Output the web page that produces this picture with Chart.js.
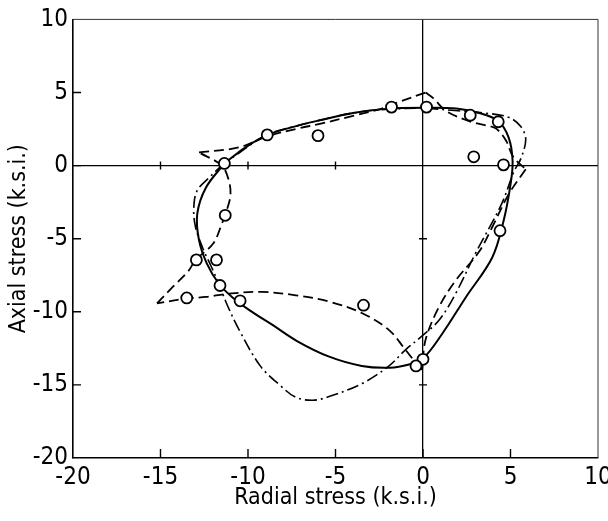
<!DOCTYPE html>
<html>
<head>
<meta charset="utf-8">
<script src="https://cdn.jsdelivr.net/npm/chart.js@4.4.1/dist/chart.umd.min.js"></script>
<style>
  html, body { margin: 0; padding: 0; background: #fff; }
</style>
</head>
<body>
<canvas id="chart" width="608" height="521"></canvas>
<script>
// axis ticks
const xTicks = [-20, -15, -10, -5, 0, 5, 10];
const yTicks = [-20, -15, -10, -5, 0, 5, 10];
const zeroLineTicksX = [-15, -10, -5];
const zeroLineTicksY = [-15, -5];

// measured points (radial, axial), k.s.i.
const measured = [
    [-11.35, 0.15], [-8.9, 2.1], [-6.0, 2.05], [-1.8, 4.0], [0.2, 4.0],
    [2.7, 3.45], [4.3, 3.0], [2.9, 0.6], [4.6, 0.05], [4.4, -4.45],
    [-11.3, -3.4], [-12.95, -6.45], [-11.8, -6.45], [-11.6, -8.2],
    [-10.45, -9.25], [-13.5, -9.05], [-3.4, -9.55], [0.0, -13.25], [-0.4, -13.7]
];

// solid curve
const solidCurve = [
    [-11.35, 0.15], [-10.2, 1.2], [-8.9, 2.1], [-7.1, 2.75], [-5.9, 3.1], [-4.0, 3.6],
    [-2.1, 3.88], [0.15, 3.95], [1.9, 3.9], [3.2, 3.6], [4.3, 3.05], [4.9, 1.9],
    [5.12, 0.3], [5.0, -1.3], [4.6, -3.8], [3.95, -6.3], [2.45, -9.0],
    [1.1, -11.5], [0.0, -13.2], [-0.8, -13.6], [-1.9, -13.82], [-3.5, -13.7],
    [-5.4, -13.05], [-7.2, -12.0], [-8.6, -10.9], [-9.9, -9.9], [-10.9, -9.0],
    [-11.65, -8.1], [-12.35, -6.7], [-12.8, -5.1], [-12.9, -3.3], [-12.4, -1.5],
    [-11.35, 0.15]
];

// dashed curve, split at its corners
const dashedTop = [
    [-12.8, 0.9], [-10.5, 1.25], [-8.9, 2.0], [-7.1, 2.55], [-5.9, 2.85],
    [-4.0, 3.4], [-2.5, 3.85], [-1.5, 4.3], [0.15, 5.0]
];
const dashedRight = [
    [0.15, 5.0], [0.6, 4.6], [1.3, 3.75], [2.6, 3.05], [3.4, 2.8], [4.15, 2.55],
    [4.75, 1.7], [5.15, 0.6], [5.87, -0.25]
];
const dashedDown = [
    [5.87, -0.25], [4.9, -1.95], [3.96, -4.2], [3.2, -5.9], [1.87, -7.85],
    [0.9, -9.7], [0.15, -11.9], [-0.05, -13.95]
];
const dashedBottom = [
    [-0.05, -13.95], [-0.4, -13.5], [-1.0, -12.6], [-1.94, -11.25], [-3.47, -10.1],
    [-5.37, -9.3], [-7.27, -8.87], [-9.2, -8.64], [-11.1, -8.76], [-12.4, -8.98],
    [-13.56, -9.1], [-15.2, -9.43]
];
const dashedLeft = [
    [-15.2, -9.43], [-14.3, -8.3], [-13.4, -7.2], [-13.0, -6.45], [-12.0, -5.35],
    [-11.5, -4.0], [-11.2, -3.0], [-11.0, -2.0], [-11.1, -1.0], [-11.5, 0.0], [-12.8, 0.9]
];

// chain-dotted curve
const dashDotCurve = [
    [-11.37, 0.15], [-12.2, -0.8], [-12.9, -1.7], [-13.1, -2.9], [-13.0, -4.2],
    [-12.6, -5.6], [-12.1, -6.9], [-11.66, -8.1], [-11.2, -9.5], [-10.5, -11.25],
    [-9.3, -13.7], [-8.1, -15.1], [-7.27, -15.85], [-6.3, -16.05], [-5.37, -15.8],
    [-3.47, -14.9], [-1.94, -13.7], [-1.0, -12.6], [0.0, -11.6], [0.9, -10.6],
    [1.8, -8.9], [3.0, -6.0], [4.5, -2.6], [5.2, -0.4], [5.6, 0.5], [5.87, 1.8],
    [5.6, 2.65], [4.9, 3.3], [3.5, 3.6], [2.0, 3.75], [0.0, 3.92], [-2.0, 3.85],
    [-4.0, 3.6], [-5.9, 3.1], [-7.1, 2.75], [-8.9, 2.1], [-11.37, 0.15]
];

const toXY = arr => arr.map(p => ({x: p[0], y: p[1]}));
const fontFamily = "'Liberation Sans Narrow', 'DejaVu Sans Condensed', 'Liberation Sans', sans-serif";

function curve(points, dash, width) {
    return {
        data: toXY(points),
        showLine: true,
        borderColor: '#000',
        borderWidth: width,
        borderDash: dash,
        pointRadius: 0,
        tension: 0.35,
        fill: false
    };
}

// box, inner tick marks and the little ticks on the zero lines
const frame = {
    id: 'frame',
    beforeDatasetsDraw(chart) {
        const {ctx, chartArea: a, scales: {x, y}} = chart;
        const x0 = x.getPixelForValue(0), y0 = y.getPixelForValue(0);
        ctx.save();
        ctx.strokeStyle = '#333';
        ctx.lineWidth = 1;
        ctx.beginPath();
        ctx.moveTo(a.left, a.top);
        ctx.lineTo(a.right, a.top);
        ctx.lineTo(a.right, a.bottom);
        ctx.stroke();

        ctx.strokeStyle = '#000';
        ctx.lineWidth = 1.4;
        ctx.beginPath();
        xTicks.slice(1, -1).forEach(v => {
            const px = x.getPixelForValue(v);
            ctx.moveTo(px, a.bottom);
            ctx.lineTo(px, a.bottom - 9);
        });
        yTicks.slice(1, -1).forEach(v => {
            const py = y.getPixelForValue(v);
            ctx.moveTo(a.left, py);
            ctx.lineTo(a.left + 8, py);
        });
        zeroLineTicksX.forEach(v => {
            const px = x.getPixelForValue(v);
            ctx.moveTo(px, y0 - 4);
            ctx.lineTo(px, y0 + 4);
        });
        zeroLineTicksY.forEach(v => {
            const py = y.getPixelForValue(v);
            ctx.moveTo(x0 - 4, py);
            ctx.lineTo(x0 + 4, py);
        });
        ctx.stroke();
        ctx.restore();
    }
};

const zeroGrid = {
    color: c => (c.tick && c.tick.value === 0) ? '#000' : 'rgba(0,0,0,0)',
    lineWidth: 1.3,
    drawTicks: false
};

new Chart(document.getElementById('chart'), {
    type: 'scatter',
    data: {
        datasets: [
            {
                data: toXY(measured),
                pointRadius: 5.5,
                pointBorderWidth: 1.8,
                pointBackgroundColor: '#fff',
                pointBorderColor: '#000',
                showLine: false
            },
            curve(solidCurve, [], 2),
            curve(dashedTop, [10, 5], 1.8),
            curve(dashedRight, [10, 5], 1.8),
            curve(dashedDown, [10, 5], 1.8),
            curve(dashedBottom, [10, 5], 1.8),
            curve(dashedLeft, [10, 5], 1.8),
            curve(dashDotCurve, [12, 4, 2, 4], 1.6)
        ]
    },
    options: {
        responsive: false,
        animation: false,
        events: [],
        layout: { padding: { top: 19, right: 10, left: 0, bottom: 0 } },
        plugins: {
            legend: { display: false },
            tooltip: { enabled: false }
        },
        scales: {
            x: {
                type: 'linear',
                min: -20,
                max: 10,
                afterBuildTicks: s => { s.ticks = xTicks.map(v => ({value: v})); },
                afterFit: s => { s.height = 63; s.paddingRight = 10; s.paddingLeft = 0; },
                grid: zeroGrid,
                border: { color: '#000', width: 1.6 },
                ticks: { padding: 5, color: '#000', font: { family: fontFamily, size: 24 } },
                title: {
                    display: true,
                    text: 'Radial stress (k.s.i.)',
                    color: '#000',
                    font: { family: fontFamily, size: 23 },
                    padding: { top: 0, bottom: 9 }
                }
            },
            y: {
                type: 'linear',
                min: -20,
                max: 10,
                afterBuildTicks: s => { s.ticks = yTicks.map(v => ({value: v})); },
                afterFit: s => { s.width = 73; },
                grid: zeroGrid,
                border: { color: '#000', width: 1.6 },
                ticks: { padding: 5, color: '#000', font: { family: fontFamily, size: 24 } },
                title: {
                    display: true,
                    text: 'Axial stress (k.s.i.)',
                    color: '#000',
                    font: { family: fontFamily, size: 23 },
                    padding: { top: 5, bottom: 0 }
                }
            }
        }
    },
    plugins: [frame]
});
</script>
</body>
</html>
